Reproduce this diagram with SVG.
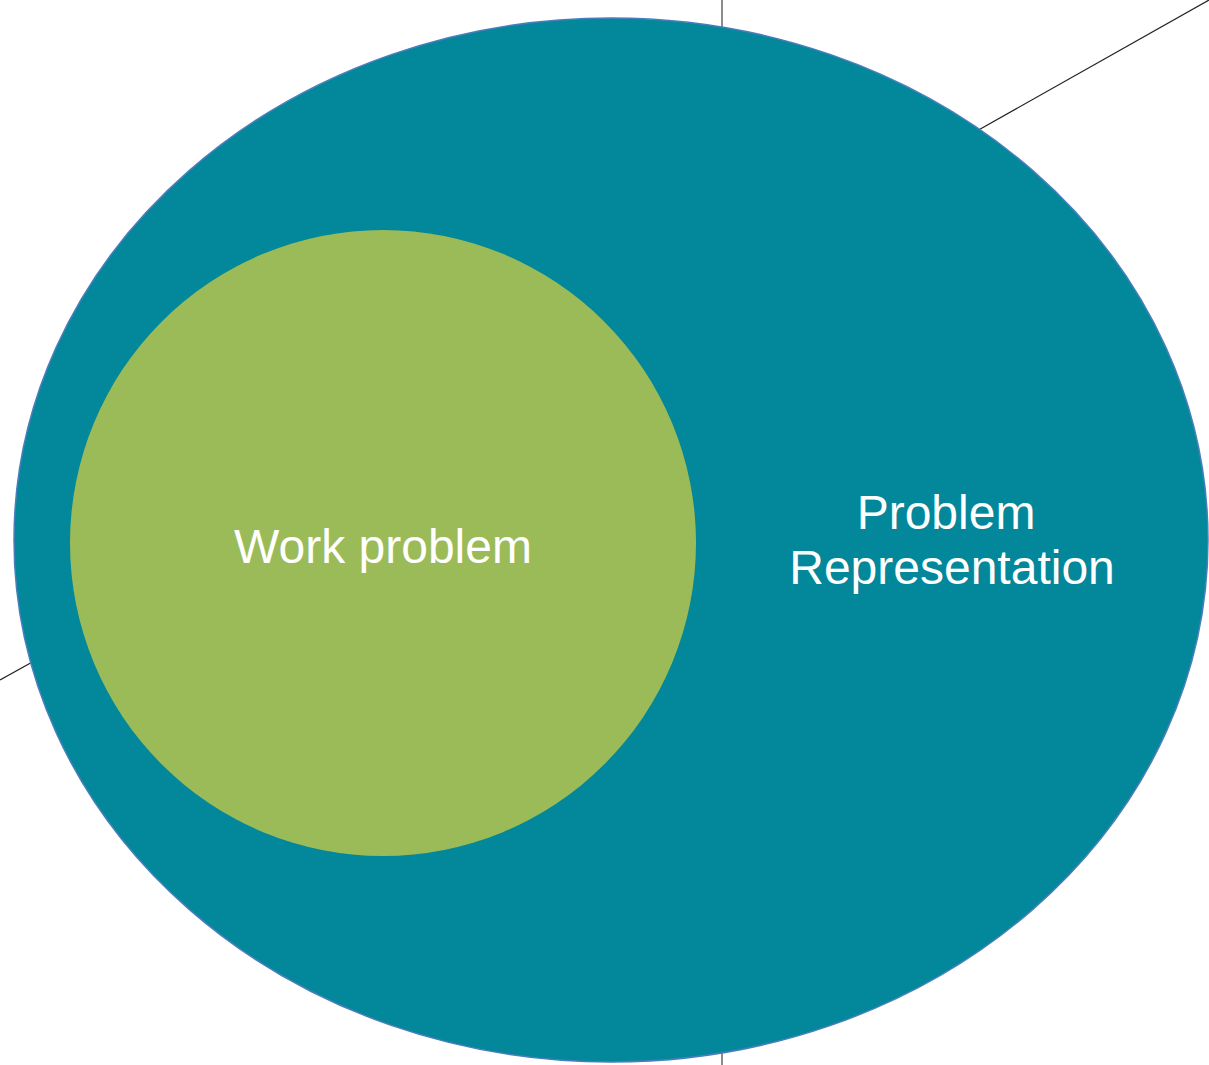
<svg xmlns="http://www.w3.org/2000/svg" width="1209" height="1065" viewBox="0 0 1209 1065">
<style>
.lbl{font-family:"Liberation Sans",Arial,sans-serif;font-size:48px;fill:#ffffff;text-anchor:middle}
</style>
<rect width="1209" height="1065" fill="#ffffff"/>
<g id="connectors" fill="none">
<line x1="722" y1="0" x2="722" y2="30" stroke="#666666" stroke-width="1.5"/>
<line x1="722" y1="1045" x2="722" y2="1065" stroke="#666666" stroke-width="1.5"/>
<line x1="1209" y1="0" x2="975" y2="132" stroke="#222222" stroke-width="1.2"/>
<line x1="0" y1="680" x2="36" y2="660" stroke="#222222" stroke-width="1.2"/>
</g>
<g id="problem-representation">
<ellipse cx="611" cy="540" rx="597" ry="522" fill="#02889a" stroke="#4a7ebb" stroke-width="1.5"/>
<text class="lbl" x="946" y="529">Problem</text>
<text class="lbl" x="952" y="584">Representation</text>
</g>
<g id="work-problem">
<circle cx="383" cy="543" r="313" fill="#9bbb59"/>
<text class="lbl" x="383" y="563">Work problem</text>
</g>
</svg>
